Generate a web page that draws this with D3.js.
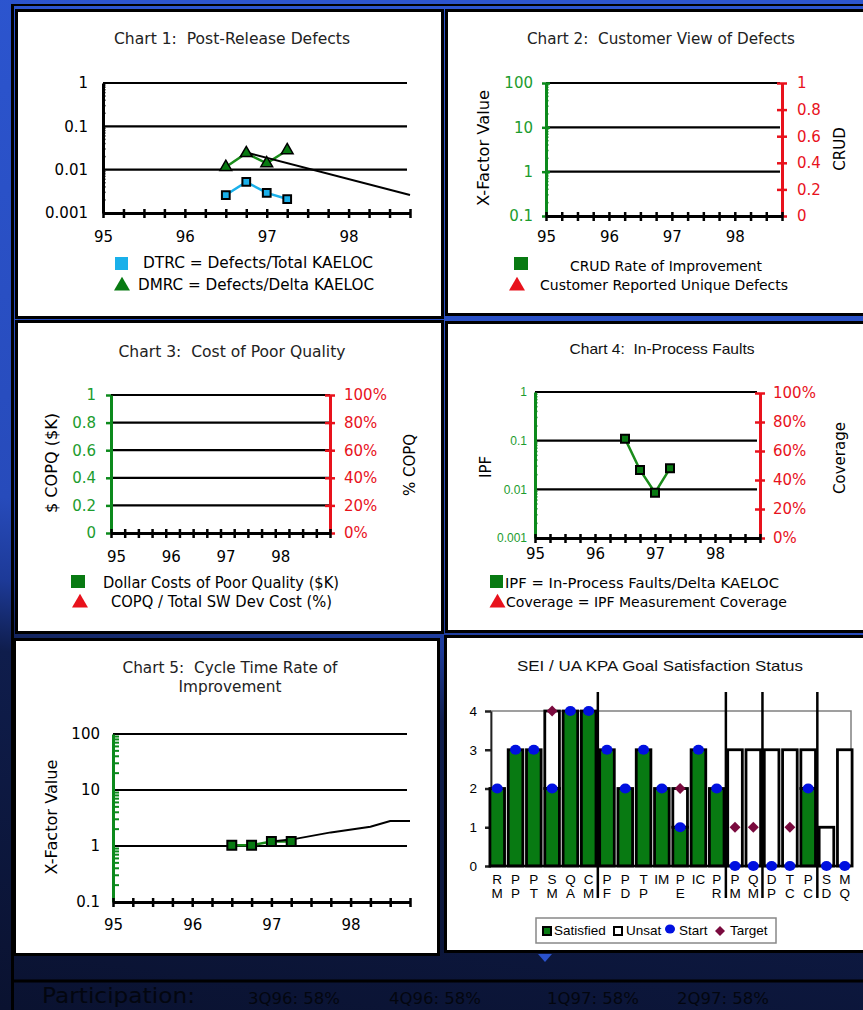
<!DOCTYPE html>
<html>
	<head>
		<title>Software Metrics Dashboard</title>
		<style>
			body, html {
				margin: 0;
				padding: 0;
				background: #0b1430;
			}
			svg { display: block; }
			text { white-space: pre; }
		</style>
	</head>
	<body>

		<svg id="svg" width="863" height="1010"></svg>

		<script src="https://d3js.org/d3.v7.min.js"></script>
		<script>
		// ---- data ----
		const yearLabels = [95, 96, 97, 98]
		const quarters = [96.5, 96.75, 97.0, 97.25]

		// Chart 1
		const dtrc = [0.0026, 0.0052, 0.0029, 0.0021]
		const dmrc = [0.0115, 0.024, 0.014, 0.028]
		const dmrcTrendYears = [96.75, 98.75]
		const dmrcTrend = [0.025, 0.0026]

		// Chart 4
		const ipf = [0.11, 0.025, 0.0085, 0.027]

		// Chart 5
		const cycleXf = [1.03, 1.03, 1.2, 1.2]
		const cycleTrendYears = [97.0, 97.25, 97.75, 98.25, 98.5, 98.75]
		const cycleTrend = [1.2, 1.3, 1.75, 2.2, 2.8, 2.8]

		// tick values
		const logTicksLow = [0.001, 0.01, 0.1, 1]
		const logTicksHigh = [0.1, 1, 10, 100]
		const unitTicks = [0, 0.2, 0.4, 0.6, 0.8, 1]
		const kpaTicks = [0, 1, 2, 3, 4]

		// KPA goal chart
		const kpaTop =    ['R', 'P', 'P', 'S', 'Q', 'C', 'P', 'P', 'T', 'IM', 'P', 'IC', 'P', 'P', 'Q', 'D', 'T', 'P', 'S', 'M']
		const kpaBottom = ['M', 'P', 'T', 'M', 'A', 'M', 'F', 'D', 'P', '',   'E', '',   'R', 'M', 'M', 'P', 'C', 'C', 'D', 'Q']
		const satisfied = [2, 3, 3, 2, 4, 4, 3, 2, 3, 2, 1, 3, 2, 0, 0, 0, 0, 2, 0, 0]
		const unsat =     [0, 0, 0, 2, 0, 0, 0, 0, 0, 0, 1, 0, 0, 3, 3, 3, 3, 1, 1, 3]
		const start =     [2, 3, 3, 2, 4, 4, 3, 2, 3, 2, 1, 3, 2, 0, 0, 0, 0, 2, 0, 0]
		const target = [null, null, null, 4, null, null, null, null, null, null, 2, null, null, 1, 1, null, 1, null, null, null]
		const levelBreaks = ['PF', 'PM', 'DP', 'SD']

		const participation = ['3Q96: 58%', '4Q96: 58%', '1Q97: 58%', '2Q97: 58%']

		// ---- setup ----
		const fontV = 'DejaVu Sans, Verdana, sans-serif'
		const fontA = 'Liberation Sans, Arial, sans-serif'
		const green = '#0c8a1c'
		const greenText = '#1c9c2e'
		const red = '#e8121c'
		const cyan = '#1ab0ea'
		const barGreen = '#087a12'

		const svg = d3.select('#svg')

		// background: blue top fading into dark navy
		const grad = svg.append('defs').append('linearGradient')
			.attr('id', 'bg').attr('gradientUnits', 'userSpaceOnUse')
			.attr('x1', 100).attr('y1', 0).attr('x2', -60).attr('y2', 1000)
		grad.append('stop').attr('offset', 0).attr('stop-color', '#2c55cf')
		grad.append('stop').attr('offset', 0.5).attr('stop-color', '#274bbb')
		grad.append('stop').attr('offset', 0.58).attr('stop-color', '#1d3a98')
		grad.append('stop').attr('offset', 0.65).attr('stop-color', '#0f1d4c')
		grad.append('stop').attr('offset', 1).attr('stop-color', '#0a1230')
		svg.append('rect').attr('width', 863).attr('height', 1010).attr('fill', 'url(#bg)')

		// frame lines
		svg.append('line').attr('x1', 11).attr('x2', 863).attr('y1', 5).attr('y2', 5)
			.attr('stroke', '#000').attr('stroke-width', 2)
		svg.append('line').attr('x1', 12.5).attr('x2', 12.5).attr('y1', 4).attr('y2', 1010)
			.attr('stroke', '#000').attr('stroke-width', 3)
		svg.append('line').attr('x1', 12).attr('x2', 863).attr('y1', 981).attr('y2', 981)
			.attr('stroke', '#000').attr('stroke-width', 3)
		svg.append('path').attr('d', 'M538,954L552,954L545,962Z').attr('fill', '#2a52cc')

		// helpers
		function panel(x, y, w, h) {
			svg.append('rect').attr('x', x - 3).attr('y', y - 3).attr('width', w + 6).attr('height', h + 6).attr('fill', '#000')
			svg.append('rect').attr('x', x).attr('y', y).attr('width', w).attr('height', h).attr('fill', '#fff')
		}

		function txt(x, y, s, o = {}) {
			const t = svg.append('text').attr('x', x).attr('y', y).text(s)
				.attr('font-family', o.family || fontV)
				.attr('font-size', o.size || 15)
				.attr('fill', o.fill || '#000')
				.attr('text-anchor', o.anchor || 'start')
			if (o.len) t.attr('textLength', o.len).attr('lengthAdjust', 'spacingAndGlyphs')
			return t
		}

		function vtxt(cx, cy, s, o = {}) {
			return txt(0, 0, s, Object.assign({}, o, { anchor: 'middle' }))
				.attr('dy', '0.35em')
				.attr('transform', `translate(${cx},${cy}) rotate(-90)`)
		}

		function grid(x, y, values, x0, x1) {
			svg.append('g').selectAll('line').data(values).join('line')
				.attr('x1', x0).attr('x2', x1)
				.attr('y1', d => y(d)).attr('y2', d => y(d))
				.attr('stroke', '#000').attr('stroke-width', 2.2)
		}

		// quarterly tick axis with year labels
		function quarterAxis(x, y0, end, labelGap, labelShift = 0) {
			const ticks = d3.range(95, end + 0.001, 0.25)
			svg.append('g').attr('transform', `translate(0,${y0})`)
				.call(d3.axisBottom(x).tickValues(ticks).tickFormat('').tickSizeInner(5).tickSizeOuter(0))
				.call(g => g.select('.domain').attr('stroke', '#000').attr('stroke-width', 3))
				.call(g => g.selectAll('.tick line').attr('y1', -4).attr('stroke', '#000').attr('stroke-width', 2.5))
			svg.append('g').attr('transform', `translate(${labelShift},${y0 + labelGap})`)
				.call(d3.axisBottom(x).tickValues(yearLabels).tickFormat(d3.format('d')).tickSize(0).tickPadding(0))
				.attr('font-family', fontV).attr('font-size', 15)
				.call(g => g.select('.domain').remove())
				.call(g => g.selectAll('text').attr('fill', '#000'))
		}

		function vAxis(scale, x, side, o) {
			const ax = (side === 'left' ? d3.axisLeft(scale) : d3.axisRight(scale))
				.tickValues(o.ticks).tickFormat(o.fmt || (d => d))
				.tickSizeInner(o.tick || 0).tickSizeOuter(0).tickPadding(o.pad)
			const g = svg.append('g').attr('transform', `translate(${x},0)`).call(ax)
				.attr('font-family', o.family || fontV).attr('font-size', o.size || 15)
			g.select('.domain').attr('stroke', o.color).attr('stroke-width', o.width || 3)
			g.selectAll('.tick line').attr('stroke', o.color).attr('stroke-width', 2.5)
			if (o.cross) g.selectAll('.tick line').attr('x1', side === 'left' ? o.cross : -o.cross)
			g.selectAll('.tick text').attr('fill', o.textColor)
			return g
		}

		function minorTicks(y, x, lo, hi, len, color, width) {
			const vals = []
			for (let d = lo; d < hi * 0.999; d *= 10) for (let k = 2; k < 10; k++) vals.push(d * k)
			svg.append('g').selectAll('line').data(vals).join('line')
				.attr('x1', x).attr('x2', x + len)
				.attr('y1', d => y(d)).attr('y2', d => y(d))
				.attr('stroke', color).attr('stroke-width', width || 1.5)
		}

		function markers(xs, ys, x, y, type, size, fill, strokeW) {
			svg.append('g').selectAll('path').data(xs).join('path')
				.attr('transform', (d, i) => `translate(${x(d)},${y(ys[i])})`)
				.attr('d', d3.symbol(type, size))
				.attr('fill', fill).attr('stroke', '#000').attr('stroke-width', strokeW)
		}

		function line(xs, ys, x, y, color, w) {
			svg.append('path')
				.attr('d', d3.line().x((d, i) => x(xs[i])).y((d, i) => y(ys[i]))(xs))
				.attr('fill', 'none').attr('stroke', color).attr('stroke-width', w)
		}

		function legendSquare(x, y, w, h, color) {
			svg.append('rect').attr('x', x).attr('y', y).attr('width', w).attr('height', h).attr('fill', color)
		}

		function legendTriangle(cx, cy, color) {
			svg.append('path').attr('transform', `translate(${cx},${cy})`)
				.attr('d', d3.symbol(d3.symbolTriangle, 110)).attr('fill', color)
		}

		// ---- panels ----
		panel(18, 12, 423, 304)
		panel(448, 12, 420, 301)
		panel(18, 323, 423, 308)
		panel(448, 324, 420, 306)
		panel(16, 641, 421, 312)
		panel(447, 638, 421, 312)

		// ---- Chart 1: Post-Release Defects ----
		{
			const x = d3.scaleLinear().domain([95, 98.75]).range([103, 410])
			const y = d3.scaleLog().domain([0.001, 1]).range([213, 83])
			txt(232, 44, 'Chart 1:  Post-Release Defects', { anchor: 'middle', fill: '#222', len: 236 })
			grid(x, y, [0.01, 0.1, 1], 103, 407)
			vAxis(y, 103, 'left', { ticks: logTicksLow, pad: 15, color: '#000', textColor: '#000', width: 3 })
			minorTicks(y, 103, 0.001, 1, 2.5, '#000', 1.5)
			quarterAxis(x, 213, 98.75, 18.8)

			line(quarters, dtrc, x, y, cyan, 2.5)
			line(quarters, dmrc, x, y, '#1a8c1a', 2.5)
			line(dmrcTrendYears, dmrcTrend, x, y, '#000', 2)
			markers(quarters, dtrc, x, y, d3.symbolSquare, 60, cyan, 2)
			markers(quarters, dmrc, x, y, d3.symbolTriangle, 60, barGreen, 1.5)

			legendSquare(115, 257, 13, 13, cyan)
			txt(143, 268, 'DTRC = Defects/Total KAELOC', { len: 230 })
			legendTriangle(122, 286, barGreen)
			txt(138, 290, 'DMRC = Defects/Delta KAELOC', { len: 236 })
		}

		// ---- Chart 2: Customer View of Defects ----
		{
			const x = d3.scaleLinear().domain([95, 98.75]).range([546, 782])
			const y = d3.scaleLog().domain([0.1, 100]).range([216, 83])
			const yr = d3.scaleLinear().domain([0, 1]).range([216, 83])
			txt(661, 44, 'Chart 2:  Customer View of Defects', { anchor: 'middle', fill: '#222', len: 268 })
			grid(x, y, [1, 10, 100], 546, 780)
			vAxis(y, 546, 'left', { ticks: logTicksHigh, tick: 4, cross: 4, pad: 9, color: green, textColor: greenText })
			minorTicks(y, 546, 0.1, 100, 2.5, green, 1.5)
			vAxis(yr, 782, 'right', { ticks: unitTicks, tick: 5, cross: 5, pad: 10, color: red, textColor: red })
			quarterAxis(x, 216, 98.75, 15.8)
			vtxt(484, 148, 'X-Factor Value', { len: 116 })
			vtxt(840, 149, 'CRUD')

			legendSquare(514, 257, 14, 13, barGreen)
			txt(570, 271, 'CRUD Rate of Improvement', { size: 14, len: 192 })
			legendTriangle(517, 286, red)
			txt(540, 290, 'Customer Reported Unique Defects', { size: 14, len: 248 })
		}

		// ---- Chart 3: Cost of Poor Quality ----
		{
			const x = d3.scaleLinear().domain([95, 99]).range([111, 330])
			const y = d3.scaleLinear().domain([0, 1]).range([533, 395])
			txt(232, 357, 'Chart 3:  Cost of Poor Quality', { anchor: 'middle', fill: '#222', len: 227 })
			grid(x, y, [0.2, 0.4, 0.6, 0.8, 1], 111, 330)
			vAxis(y, 111, 'left', { ticks: unitTicks, tick: 5, pad: 10, color: green, textColor: greenText })
			vAxis(y, 330, 'right', { ticks: unitTicks, fmt: d3.format('.0%'), tick: 5, cross: 5, pad: 9, color: red, textColor: red })
			quarterAxis(x, 533, 99, 18.8, 5)
			vtxt(52, 463, '$ COPQ ($K)', { len: 100 })
			vtxt(410, 465, '% COPQ')

			legendSquare(71, 575, 14, 13, barGreen)
			txt(103, 588, 'Dollar Costs of Poor Quality ($K)', { len: 236 })
			legendTriangle(80, 603, red)
			txt(111, 607, 'COPQ / Total SW Dev Cost (%)', { len: 221 })
		}

		// ---- Chart 4: In-Process Faults ----
		{
			const x = d3.scaleLinear().domain([95, 98.75]).range([535, 760])
			const y = d3.scaleLog().domain([0.001, 1]).range([538, 392])
			const yr = d3.scaleLinear().domain([0, 1]).range([538, 393])
			txt(662, 354, 'Chart 4:  In-Process Faults', { anchor: 'middle', family: fontA, fill: '#111', len: 185 })
			grid(x, y, [0.01, 0.1, 1], 535, 757)
			vAxis(y, 535, 'left', { ticks: logTicksLow, pad: 8, color: green, textColor: greenText, family: fontA, size: 12 })
			minorTicks(y, 535, 0.001, 1, 2.5, green, 1.5)
			vAxis(yr, 760, 'right', { ticks: unitTicks, fmt: d3.format('.0%'), tick: 5, cross: 5, pad: 8, color: red, textColor: red })
			quarterAxis(x, 538, 98.75, 10.8)
			vtxt(486, 467, 'IPF')
			vtxt(840, 458, 'Coverage')

			line(quarters, ipf, x, y, '#1a8c1a', 2.5)
			markers(quarters, ipf, x, y, d3.symbolSquare, 64, barGreen, 2)

			legendSquare(490, 575, 13, 13, barGreen)
			txt(505, 588, 'IPF = In-Process Faults/Delta KAELOC', { size: 14, len: 274 })
			legendTriangle(497.5, 603, red)
			txt(506, 607, 'Coverage = IPF Measurement Coverage', { size: 14, len: 281 })
		}

		// ---- Chart 5: Cycle Time Rate of Improvement ----
		{
			const x = d3.scaleLinear().domain([95, 98.75]).range([113, 410])
			const y = d3.scaleLog().domain([0.1, 100]).range([902, 734])
			txt(230, 673, 'Chart 5:  Cycle Time Rate of', { anchor: 'middle', fill: '#222', len: 215 })
			txt(230, 692, 'Improvement', { anchor: 'middle', fill: '#222', len: 103 })
			grid(x, y, [1, 10, 100], 113, 407)
			vAxis(y, 113, 'left', { ticks: logTicksHigh, pad: 13, color: green, textColor: '#000' })
			minorTicks(y, 113, 0.1, 100, 6, green, 2)
			quarterAxis(x, 902, 98.75, 17.8)
			vtxt(52, 817, 'X-Factor Value', { len: 115 })

			line(quarters, cycleXf, x, y, '#1a8c1a', 2.5)
			line(cycleTrendYears, cycleTrend, x, y, '#000', 2)
			markers(quarters, cycleXf, x, y, d3.symbolSquare, 80, barGreen, 2)
		}

		// ---- Chart 6: SEI / UA KPA Goal Satisfaction Status ----
		{
			const codes = kpaTop.map((t, i) => t + kpaBottom[i])
			const x = d3.scaleBand().domain(codes).range([489, 853]).paddingInner(0.2).paddingOuter(0.05)
			const y = d3.scaleLinear().domain([0, 4]).range([866, 711])
			txt(660, 671, 'SEI / UA KPA Goal Satisfaction Status', { anchor: 'middle', family: fontA, fill: '#111', len: 286 })

			svg.append('rect').attr('x', 491).attr('y', 711).attr('width', 360).attr('height', 155)
				.attr('fill', 'none').attr('stroke', '#808080').attr('stroke-width', 1.5)
			vAxis(y, 491, 'left', { ticks: kpaTicks, tick: 6, pad: 8, color: '#222', textColor: '#000', family: fontA, size: 13.5, width: 1.8 })

			const bars = svg.append('g')
			codes.forEach((c, i) => {
				if (unsat[i] > 0) {
					bars.append('rect').attr('x', x(c)).attr('width', x.bandwidth())
						.attr('y', y(satisfied[i] + unsat[i])).attr('height', y(satisfied[i]) - y(satisfied[i] + unsat[i]))
						.attr('fill', '#fff').attr('stroke', '#000').attr('stroke-width', 2.8)
				}
				if (satisfied[i] > 0) {
					bars.append('rect').attr('x', x(c)).attr('width', x.bandwidth())
						.attr('y', y(satisfied[i])).attr('height', y(0) - y(satisfied[i]))
						.attr('fill', barGreen).attr('stroke', '#000').attr('stroke-width', 2.8)
				}
			})
			svg.append('line').attr('x1', 491).attr('x2', 851).attr('y1', 866).attr('y2', 866)
				.attr('stroke', '#000').attr('stroke-width', 2.5)

			// maturity level separators
			const step = x.step()
			svg.append('g').selectAll('line').data(levelBreaks).join('line')
				.attr('x1', d => x(d) - step * 0.1).attr('x2', d => x(d) - step * 0.1)
				.attr('y1', 692).attr('y2', 898)
				.attr('stroke', '#000').attr('stroke-width', 2.5)

			svg.append('g').selectAll('ellipse').data(codes).join('ellipse')
				.attr('cx', d => x(d) + x.bandwidth() / 2)
				.attr('cy', (d, i) => y(start[i]))
				.attr('rx', 5.5).attr('ry', 5)
				.attr('fill', '#0010e0')

			svg.append('g').selectAll('path').data(codes.filter((d, i) => target[i] !== null)).join('path')
				.attr('transform', d => `translate(${x(d) + x.bandwidth() / 2},${y(target[codes.indexOf(d)])}) rotate(45)`)
				.attr('d', d3.symbol(d3.symbolSquare, 60))
				.attr('fill', '#7a0a3e')

			const labels = svg.append('g').attr('font-family', fontA).attr('font-size', 13.5).attr('text-anchor', 'middle')
			codes.forEach((c, i) => {
				const cx = x(c) + x.bandwidth() / 2
				labels.append('text').attr('x', cx).attr('y', 884).text(kpaTop[i])
				labels.append('text').attr('x', cx).attr('y', 898).text(kpaBottom[i])
			})

			// legend
			svg.append('rect').attr('x', 536).attr('y', 918).attr('width', 240).attr('height', 25)
				.attr('fill', '#fff').attr('stroke', '#888').attr('stroke-width', 1.5)
			svg.append('rect').attr('x', 543).attr('y', 927).attr('width', 8).attr('height', 8)
				.attr('fill', barGreen).attr('stroke', '#000').attr('stroke-width', 2)
			txt(554, 935, 'Satisfied', { family: fontA, size: 13.5 })
			svg.append('rect').attr('x', 614).attr('y', 927).attr('width', 8).attr('height', 8)
				.attr('fill', '#fff').attr('stroke', '#000').attr('stroke-width', 2)
			txt(626, 935, 'Unsat', { family: fontA, size: 13.5 })
			svg.append('ellipse').attr('cx', 670).attr('cy', 929).attr('rx', 5).attr('ry', 4.5).attr('fill', '#0010e0')
			txt(679, 935, 'Start', { family: fontA, size: 13.5 })
			svg.append('path').attr('transform', 'translate(720,931) rotate(45)')
				.attr('d', d3.symbol(d3.symbolSquare, 50)).attr('fill', '#7a0a3e')
			txt(730, 935, 'Target', { family: fontA, size: 13.5 })
		}

		// ---- participation footer ----
		txt(42, 1003, 'Participation:', { size: 22, fill: '#03060f', len: 153 })
		const partX = [248, 389, 547, 677]
		participation.forEach((p, i) => txt(partX[i], 1004, p, { size: 16, fill: '#03060f', len: 92 }))
		</script>
	</body>
</html>
